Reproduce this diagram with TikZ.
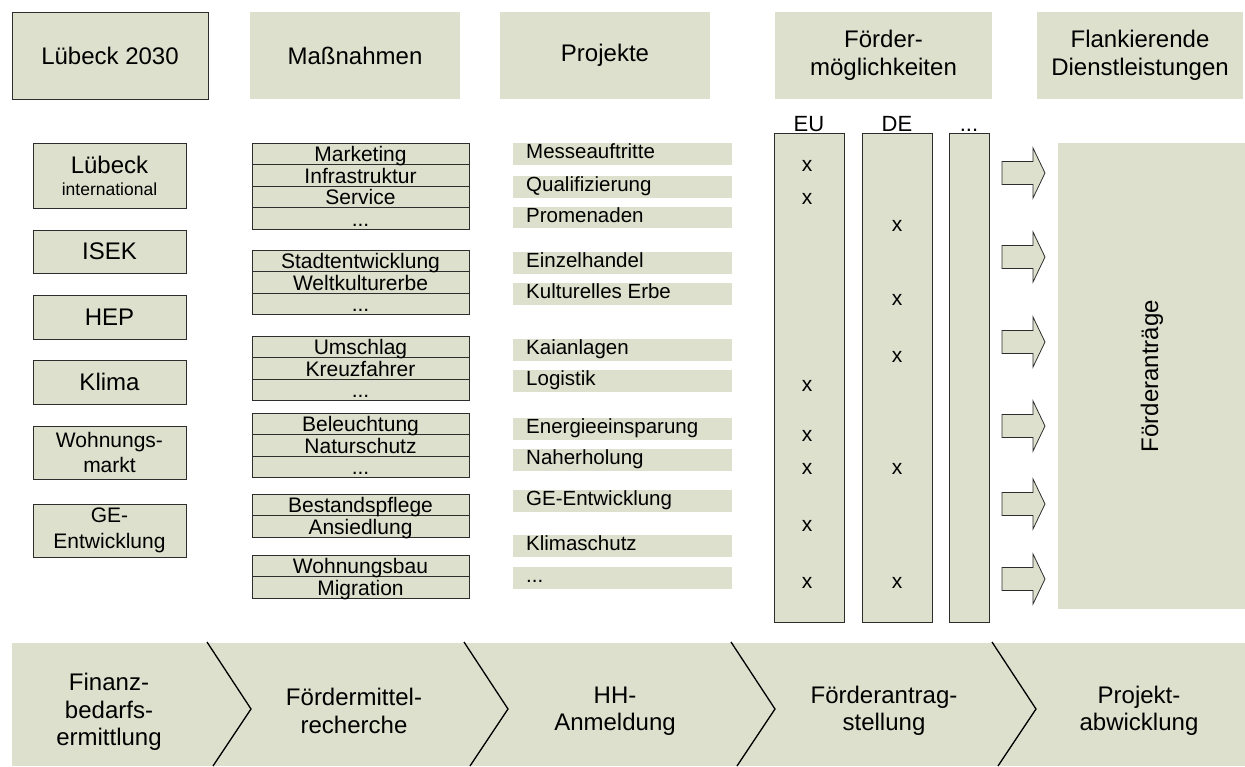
\documentclass[tikz,border=0pt]{standalone}
\usepackage{fontspec}
\setmainfont{Liberation Sans}
\definecolor{boxc}{RGB}{221,224,204}
\definecolor{bordc}{RGB}{45,45,45}
\newcommand\mydots{...}
\begin{document}
\begin{tikzpicture}[x=1pt,y=-1pt,
  hdr/.style={fill=boxc, minimum width=#1, minimum height=87pt, inner sep=0pt, align=center, font=\fontsize{24}{28}\selectfont},
  lbox/.style={draw=bordc, fill=boxc, line width=1pt, minimum width=153pt, inner sep=0pt, align=center, font=\fontsize{24}{24}\selectfont},
  mrow/.style={draw=bordc, fill=boxc, line width=1pt, minimum width=217pt, minimum height=21.5pt, inner sep=0pt},
  mtxt/.style={anchor=base, inner sep=0pt, font=\fontsize{21}{21}\selectfont},
  pstrip/.style={fill=boxc, minimum width=219pt, minimum height=21.5pt, inner sep=0pt},
  ptxt/.style={anchor=base west, inner sep=0pt, font=\fontsize{20.5}{20}\selectfont},
  colbox/.style={draw=bordc, fill=boxc, line width=1pt, minimum height=489pt, inner sep=0pt},
  xmark/.style={inner sep=0pt, font=\fontsize{21}{21}\selectfont},
  stxt/.style={align=center, inner sep=0pt, font=\fontsize{24}{27.5}\selectfont},
  barrow/.style={fill=boxc, draw=bordc, line width=0.8pt, line join=miter}
]
\useasboundingbox (0,0) rectangle (1245,766);

% headers
\node[hdr=196pt, draw=bordc, line width=1pt] (h1) at (110,55.5) {Lübeck 2030};
\node[hdr=210pt] (h2) at (355,55.5) {Maßnahmen};
\node[hdr=210pt] (h3) at (605,55.5) {Projekte};
\node[hdr=217pt] (h4) at (883.5,55.5) {Förder-\\möglichkeiten};
\node[hdr=206pt] (h5) at (1140,55.5) {Flankierende\\Dienstleistungen};

% left column
\node[lbox, minimum height=65pt] (l1) at (109.5,175.5) {Lübeck\\[-2pt]{\fontsize{17.5}{20}\selectfont international}};
\node[lbox, minimum height=43pt] (l2) at (109.5,251.5) {ISEK};
\node[lbox, minimum height=44pt] (l3) at (109.5,317) {HEP};
\node[lbox, minimum height=44pt] (l4) at (109.5,382) {Klima};
\node[lbox, minimum height=53pt, font=\fontsize{21}{25.5}\selectfont] (l5) at (109.5,452.5) {Wohnungs-\\markt};
\node[lbox, minimum height=53pt, font=\fontsize{21}{25.5}\selectfont] (l6) at (109.5,530.5) {GE-\\Entwicklung};

% Massnahmen rows
\foreach \t/\n [count=\i] in {
  143/0, 143/1, 143/2, 143/3,
  250/0, 250/1, 250/2,
  336/0, 336/1, 336/2,
  413/0, 413/1, 413/2,
  494/0, 494/1,
  555/0, 555/1}
  \node[mrow] (m\i) at (360.5,\t+\n*21.5+10.75) {};
\foreach \t/\n/\lab [count=\i] in {
  143/0/Marketing, 143/1/Infrastruktur, 143/2/Service, 143/3/\mydots,
  250/0/Stadtentwicklung, 250/1/Weltkulturerbe, 250/2/\mydots,
  336/0/Umschlag, 336/1/Kreuzfahrer, 336/2/\mydots,
  413/0/Beleuchtung, 413/1/Naturschutz, 413/2/\mydots,
  494/0/Bestandspflege, 494/1/Ansiedlung,
  555/0/Wohnungsbau, 555/1/Migration}
  \node[mtxt] (mt\i) at (360.5,\t+\n*21.5+18.5) {\lab};

% Projekte strips
\foreach \t/\lab [count=\i] in {
  143/Messeauftritte, 176/Qualifizierung, 206.5/Promenaden,
  252/Einzelhandel, 283/Kulturelles Erbe,
  339/Kaianlagen, 370/Logistik,
  418/Energieeinsparung, 449/Naherholung,
  490/GE-Entwicklung, 535/Klimaschutz, 567/\mydots}
{
  \node[pstrip] (p\i) at (622.5,\t+10.75) {};
  \node[ptxt] (pt\i) at (526,\t+15.5) {\lab};
}

% Foerdermoeglichkeiten columns
\node[colbox, minimum width=70pt] (eu) at (809,377.5) {};
\node[colbox, minimum width=70pt] (de) at (897,377.5) {};
\node[colbox, minimum width=40pt] (ot) at (969,377.5) {};
\node[anchor=base, inner sep=0pt, font=\fontsize{22}{22}\selectfont] (eul) at (809,131) {EU};
\node[anchor=base, inner sep=0pt, font=\fontsize{22}{22}\selectfont] (del) at (897,131) {DE};
\node[anchor=base, inner sep=0pt, font=\fontsize{22}{22}\selectfont] (otl) at (969,131) {\mydots};
\foreach \y [count=\i] in {166,199,386,436,469,526,583}
  \node[xmark] (xe\i) at (807,\y) {x};
\foreach \y [count=\i] in {226,300,357,469,583}
  \node[xmark] (xd\i) at (897,\y) {x};

% block arrows
\foreach \c in {173,257,342,426,504,579}
  \draw[barrow] (1002,\c-11.5) -- (1033,\c-11.5) -- (1033,\c-25) -- (1045,\c)
     -- (1033,\c+25) -- (1033,\c+11.5) -- (1002,\c+11.5) -- cycle;

% Foerderantraege
\node[fill=boxc, minimum width=187pt, minimum height=466pt, inner sep=0pt] (fa) at (1151.5,376) {};
\node[rotate=90, inner sep=0pt, font=\fontsize{24}{24}\selectfont] (fat) at (1152,376) {Förderanträge};

% bottom process band
\fill[boxc] (12,643) rectangle (1245,766);
\foreach \x in {207,464,731,992}
  \draw[line width=1.3pt, black] (\x,642) -- (\x+44,709) -- (\x+6,766);
\node[stxt] (s1) at (109,712) {Finanz-\\bedarfs-\\ermittlung};
\node[stxt] (s2) at (354,711) {Fördermittel-\\recherche};
\node[stxt] (s3) at (615,711) {HH-\\Anmeldung};
\node[stxt] (s4) at (884,711) {Förderantrag-\\stellung};
\node[stxt] (s5) at (1139,711) {Projekt-\\abwicklung};
\end{tikzpicture}
\end{document}
